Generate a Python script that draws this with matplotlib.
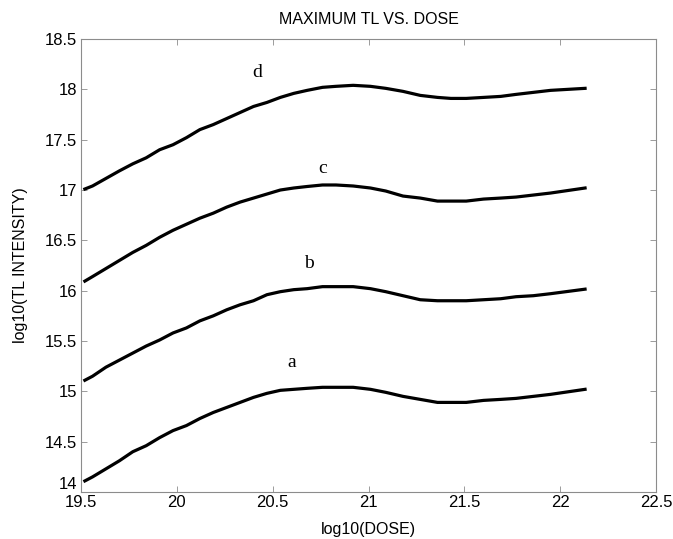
import matplotlib
matplotlib.use("Agg")
from matplotlib import pyplot as plt

# log10(DOSE) sample points shared by all curves
dose = [19.52, 19.56, 19.63, 19.70, 19.77, 19.84, 19.91, 19.98, 20.05, 20.12,
        20.19, 20.26, 20.33, 20.40, 20.47, 20.54, 20.61, 20.68, 20.76, 20.83,
        20.92, 21.01, 21.09, 21.18, 21.27, 21.36, 21.43, 21.51, 21.60, 21.69,
        21.77, 21.86, 21.95, 22.13]

curve_d = [17.01, 17.04, 17.115, 17.19, 17.26, 17.32, 17.40, 17.45, 17.52, 17.60,
           17.65, 17.71, 17.77, 17.83, 17.87, 17.92, 17.96, 17.99, 18.02, 18.03,
           18.04, 18.03, 18.01, 17.98, 17.94, 17.92, 17.91, 17.91, 17.92, 17.93,
           17.95, 17.97, 17.99, 18.01]

curve_c = [16.095, 16.14, 16.22, 16.30, 16.38, 16.45, 16.53, 16.60, 16.66, 16.72,
           16.77, 16.83, 16.88, 16.92, 16.96, 17.00, 17.02, 17.035, 17.05, 17.05,
           17.04, 17.02, 16.99, 16.94, 16.92, 16.89, 16.89, 16.89, 16.91, 16.92,
           16.93, 16.95, 16.97, 17.02]

curve_b = [15.11, 15.15, 15.24, 15.31, 15.38, 15.45, 15.51, 15.58, 15.63, 15.70,
           15.75, 15.81, 15.86, 15.90, 15.96, 15.99, 16.01, 16.02, 16.04, 16.04,
           16.04, 16.02, 15.99, 15.95, 15.91, 15.90, 15.90, 15.90, 15.91, 15.92,
           15.94, 15.95, 15.97, 16.015]

curve_a = [14.11, 14.15, 14.23, 14.31, 14.40, 14.46, 14.54, 14.61, 14.66, 14.73,
           14.79, 14.84, 14.89, 14.94, 14.98, 15.01, 15.02, 15.03, 15.04, 15.04,
           15.04, 15.02, 14.99, 14.95, 14.92, 14.89, 14.89, 14.89, 14.91, 14.92,
           14.93, 14.95, 14.97, 15.02]

curve_labels = ["a", "b", "c", "d"]
label_x = [20.60, 20.69, 20.76, 20.42]
label_y = [15.29, 16.27, 17.21, 18.17]

xticks = [19.5, 20, 20.5, 21, 21.5, 22, 22.5]
yticks = [14, 14.5, 15, 15.5, 16, 16.5, 17, 17.5, 18, 18.5]

plt.rcParams["font.family"] = ["Liberation Sans", "DejaVu Sans"]

fig = plt.figure(figsize=(6.73, 5.39), dpi=100)
ax = fig.add_axes([0.1204, 0.0872, 0.8543, 0.8404])

for ys in (curve_a, curve_b, curve_c, curve_d):
    ax.plot(dose, ys, color="black", lw=2.3, solid_joinstyle="round")

for lab, lx, ly in zip(curve_labels, label_x, label_y):
    ax.text(lx, ly, lab, family=["Liberation Serif", "DejaVu Serif"],
            fontsize=14, ha="center", va="center")

ax.set_xlim(19.5, 22.5)
ax.set_ylim(14, 18.5)
ax.set_xticks(xticks)
ax.set_xticklabels([f"{t:g}" for t in xticks])
ax.set_yticks(yticks)
ax.set_yticklabels([f"{t:g}" for t in yticks])
# bottom y label sits a bit above its tick, as in the original
ax.get_yticklabels()[0].set_verticalalignment("bottom")

for s in ax.spines.values():
    s.set_color("#8c8c8c")
    s.set_linewidth(0.8)
ax.tick_params(direction="in", length=4, width=0.6, color="#8c8c8c",
               labelsize=12, top=True, right=True)
ax.tick_params(axis="x", pad=2)
ax.tick_params(axis="y", pad=3)

ax.set_title("MAXIMUM TL VS. DOSE", fontsize=11.5, pad=11)
ax.set_xlabel("log10(DOSE)", fontsize=11.5, labelpad=9)
ax.set_ylabel("log10(TL INTENSITY)", fontsize=11.5, labelpad=12)

fig.savefig("out.png", dpi=100)
